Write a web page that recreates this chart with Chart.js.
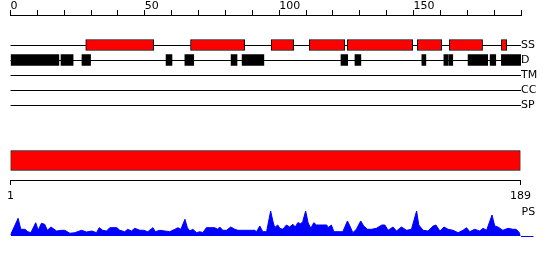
<!DOCTYPE html>
<html>
<head>
<meta charset="utf-8">
<script src="https://cdn.jsdelivr.net/npm/chart.js@4"></script>
<style>
  body { margin: 0; background: #fff; }
  #wrap { position: relative; width: 550px; height: 260px; }
  canvas { position: absolute; left: 0; }
</style>
</head>
<body>
<div id="wrap">
  <canvas id="tracks" width="550" height="115" style="top:0"></canvas>
  <canvas id="domain" width="550" height="65" style="top:140px"></canvas>
  <canvas id="ps" width="550" height="45" style="top:200px"></canvas>
</div>
<script>
// track names (right side labels)
const trackNames = ['SS', 'D', 'TM', 'CC', 'SP']
// secondary structure segments (residue ranges)
const ssStart = [28, 67, 97, 111.2, 125.3, 151.4, 163.3, 182.7]
const ssEnd = [53.3, 87.2, 105.4, 124.4, 149.7, 160.5, 175.7, 184.7]
// disorder segments
const dStart = [0, 18.8, 26.6, 57.9, 64.9, 82.1, 86.2, 123, 128.2, 153.1, 161.3, 163.1, 170.3, 178.5, 182.7]
const dEnd = [18, 23.3, 29.8, 60.1, 68.2, 84.3, 94.3, 125.5, 130.4, 154.6, 162.8, 164.6, 177.6, 180.6, 190]
// top ruler
const rulerMax = 190
const rulerLabels = [0, 50, 100, 150]
// domain bar and bottom ruler
const domainRange = [1, 189]
const bottomTicks = [1, 189]
// PS profile (residue, height)
const psPos = [1, 3.8, 4.8, 6.3, 7.4, 8.5, 10.3, 11.2, 12.4, 13.6, 14.6, 15.9, 18, 19.9, 21, 22.9, 24.7, 27.2, 29, 31, 32.7,
  33.7, 35, 36.4, 37.6, 40.2, 41.3, 43.1, 44.2, 45.6, 46.8, 48.7, 50.1, 51.6, 53.5, 54.4, 56, 57.9, 59.7, 61.6, 62.7, 63.8,
  65.3, 66.2, 67.1, 68.2, 69.6, 70.8, 71.9, 73.2, 76.3, 77.4, 78.1, 79.3, 80.6, 82.2, 83.7, 84.8, 91, 91.7, 92.9, 94, 95.4,
  96.9, 97.7, 98.4, 99.5, 100.3, 101.4, 102.7, 103.9, 105.1, 106, 106.9, 108, 108.7, 109.8, 110.7, 111.7, 112.8, 113.8, 115,
  117.6, 118, 119.3, 120.2, 122.4, 123.5, 125.2, 126.1, 127.2, 128.5, 130.1, 131.2, 132.6, 134.1, 135.9, 137.9, 139, 140.2,
  142, 143.3, 145.1, 147, 148.8, 150.7, 151.5, 153.1, 154.9, 156.8, 157.8, 159.3, 160.8, 162.3, 164.1, 166, 167.8, 169.1,
  170.3, 172.1, 174, 175.2, 176.5, 178.5, 179.5, 180.7, 182.5, 184.4, 186.2, 187.4, 188.6, 189]
const psVal = [1, 17.7, 6.7, 6.7, 4.3, 3.3, 13.3, 5.7, 12.7, 11.7, 5.7, 9, 5, 5.7, 5.7, 2.7, 3.3, 5.7, 4, 5, 3.3,
  8.3, 5.7, 5, 8.3, 8.3, 5.7, 4.3, 6.7, 5, 7.7, 5.7, 5.7, 4.3, 8.3, 4.3, 5.7, 5, 4.3, 6.7, 8.3, 6.7,
  16.7, 8.3, 5, 6.7, 3.3, 4.3, 3.3, 8.3, 8.3, 6.7, 9, 5.7, 5.7, 9, 6.7, 5.7, 5.7, 4.3, 10, 4.3, 4.3,
  25, 15, 8.5, 11, 7.7, 6.7, 11, 9, 11.7, 9, 13.3, 12.3, 14.3, 25, 13.3, 7.7, 13.3, 11, 11,
  11, 8.3, 11, 4.3, 4.3, 4.3, 15, 10, 3.3, 6.7, 15, 10, 6.7, 6.7, 7.7, 11, 11, 5.7,
  9, 5, 9, 5.7, 6.7, 25, 11, 5.7, 5, 10, 11, 5, 9, 6.7, 5.7, 3.3, 5.7, 8.3,
  4.3, 6.7, 5, 7.7, 5.7, 21, 10, 9, 5.7, 7.7, 6.7, 6.7, 3.3, 0]
const psLabelAt = 23.5

const txtFont = { family: 'DejaVu Sans', size: 11, lineHeight: 1 }
const clear = 'rgba(0,0,0,0)'

new Chart('tracks', {
    type: 'bar',
    data: {
        labels: ['', ' '].concat(trackNames),
        datasets: [{
            data: ssStart.map((s, i) => ({ x: [s, ssEnd[i]], y: 'SS' })),
            backgroundColor: '#ff0000',
            borderColor: '#000',
            borderWidth: 1,
            borderSkipped: false,
            barThickness: 11,
            grouped: false
        }, {
            data: dStart.map((s, i) => ({ x: [s, dEnd[i]], y: 'D' })),
            backgroundColor: '#000',
            borderWidth: 0,
            barThickness: 11,
            grouped: false
        }]
    },
    options: {
        indexAxis: 'y',
        responsive: false,
        animation: false,
        layout: { padding: { left: 10.5, right: 0, top: 0, bottom: 10 } },
        plugins: { legend: { display: false }, tooltip: { enabled: false } },
        scales: {
            x: {
                type: 'linear', position: 'top', min: 0, max: rulerMax,
                ticks: {
                    stepSize: 10, includeBounds: false, autoSkip: false, maxRotation: 0,
                    align: 'start', padding: -2, color: '#000', font: txtFont,
                    callback: v => rulerLabels.includes(v) ? String(v) : ''
                },
                grid: { drawOnChartArea: false, drawTicks: true, tickLength: 5, color: '#000' },
                border: { color: '#000' },
                afterFit: s => { s.height = 15 }
            },
            y: {
                type: 'category', position: 'right', offset: false,
                grid: { offset: false, drawTicks: false, color: ctx => ctx.index >= 2 ? '#000' : clear },
                border: { display: false },
                ticks: { padding: 0, color: '#000', font: txtFont, autoSkip: false },
                afterFit: s => { s.width = 29 }
            }
        }
    }
})

new Chart('domain', {
    type: 'bar',
    data: {
        labels: ['domain'],
        datasets: [{
            data: [{ x: domainRange, y: 'domain' }],
            backgroundColor: '#ff0000',
            borderColor: '#000',
            borderWidth: 1,
            borderSkipped: false,
            barThickness: 20
        }]
    },
    options: {
        indexAxis: 'y',
        responsive: false,
        animation: false,
        layout: { padding: { left: 10.5, right: 29.5, top: 1, bottom: 0 } },
        plugins: { legend: { display: false }, tooltip: { enabled: false } },
        scales: {
            x: {
                type: 'linear', min: domainRange[0], max: domainRange[1],
                afterBuildTicks: s => { s.ticks = bottomTicks.map(v => ({ value: v })) },
                ticks: { autoSkip: false, maxRotation: 0, padding: 6, color: '#000', font: txtFont },
                grid: { drawOnChartArea: false, tickLength: 5, color: '#000' },
                border: { color: '#000' },
                afterFit: s => { s.height = 25 }
            },
            y: { display: false }
        }
    }
})

new Chart('ps', {
    type: 'line',
    data: {
        datasets: [{
            data: psPos.map((p, i) => ({ x: p, y: psVal[i] })),
            fill: 'origin',
            backgroundColor: '#0000ff',
            borderColor: '#0000ff',
            borderWidth: 1,
            pointRadius: 0,
            tension: 0
        }]
    },
    options: {
        responsive: false,
        animation: false,
        layout: { padding: { left: 10.5, right: 0, top: 5, bottom: 9 } },
        plugins: { legend: { display: false }, tooltip: { enabled: false } },
        scales: {
            x: { type: 'linear', min: domainRange[0], max: domainRange[1], display: false },
            y: {
                position: 'right', min: 0, max: 31,
                afterBuildTicks: s => { s.ticks = [{ value: 0 }, { value: psLabelAt }] },
                ticks: { padding: -12, color: '#000', font: txtFont, callback: v => v === 0 ? '' : 'PS' },
                grid: {
                    drawOnChartArea: false, drawTicks: true, tickLength: 13,
                    color: ctx => ctx.tick && ctx.tick.value === 0 ? '#0000ff' : clear
                },
                border: { display: false },
                afterFit: s => { s.width = 29.5 }
            }
        }
    }
})
</script>
</body>
</html>
